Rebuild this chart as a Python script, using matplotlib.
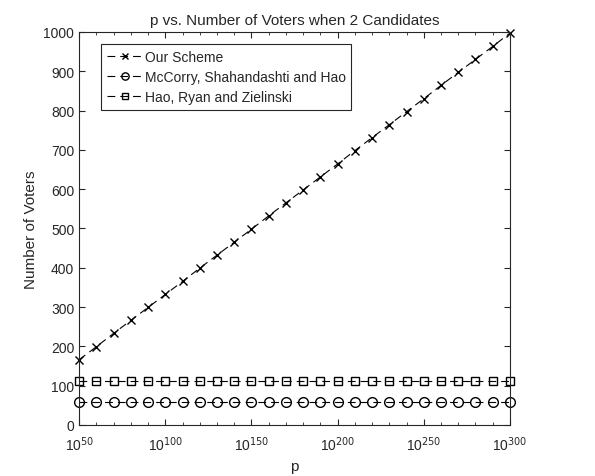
import matplotlib
matplotlib.use('Agg')
import matplotlib.pyplot as plt
from matplotlib.ticker import FixedLocator, NullFormatter

plt.rcParams['font.family'] = ['Liberation Sans', 'DejaVu Sans']

exps = [50, 60, 70, 80, 90, 100, 110, 120, 130, 140, 150, 160, 170, 180, 190,
        200, 210, 220, 230, 240, 250, 260, 270, 280, 290, 300]
ours = [166, 199, 233, 266, 299, 332, 365, 399, 432, 465, 498, 532, 565, 598,
        631, 664, 698, 731, 764, 797, 830, 864, 897, 930, 963, 997]
mccorry = [58] * 26
hao = [113] * 26
major_exps = [50, 100, 150, 200, 250, 300]

p = [10.0 ** e for e in exps]
txt = '#262626'
dash = (7, 4.5)

fig = plt.figure(figsize=(5.95, 4.77), dpi=100)
ax = fig.add_axes([0.133, 0.107, 0.724, 0.824])

ax.plot(p, ours, '--x', color='black', lw=0.8, ms=5.5, mew=1.0, dashes=dash,
        label='Our Scheme', clip_on=False)
ax.plot(p, mccorry, '--o', color='black', lw=0.8, ms=7, mfc='none', mew=1.0, dashes=dash,
        label='McCorry, Shahandashti and Hao', clip_on=False)
ax.plot(p, hao, '--s', color='black', lw=0.8, ms=6, mfc='none', mew=1.0, dashes=dash,
        label='Hao, Ryan and Zielinski', clip_on=False)

ax.set_xscale('log')
ax.set_xlim(1e50, 1e300)
ax.set_ylim(0, 1000)
ax.xaxis.set_major_locator(FixedLocator([10.0 ** e for e in major_exps]))
ax.xaxis.set_minor_locator(FixedLocator(p))
ax.xaxis.set_minor_formatter(NullFormatter())
ax.set_xticklabels(['10$^{%d}$' % e for e in major_exps])
ax.set_yticks(range(0, 1001, 100))

ax.tick_params(which='both', direction='in', top=True, right=True, colors=txt, labelsize=10)
ax.tick_params(which='major', length=4)
ax.tick_params(which='minor', length=2)
ax.tick_params(axis='x', which='major', pad=7)
for s in ax.spines.values():
    s.set_color(txt)
    s.set_linewidth(0.8)

ax.set_title('p vs. Number of Voters when 2 Candidates', fontsize=11, color=txt)
ax.set_xlabel('p', fontsize=11, color=txt)
ax.set_ylabel('Number of Voters', fontsize=11, color=txt)

leg = ax.legend(loc='upper left', bbox_to_anchor=(0.051, 0.969), borderaxespad=0,
                fontsize=10, fancybox=False, edgecolor=txt, framealpha=1, markerscale=0.75,
                handlelength=2.6, handletextpad=0.15, borderpad=0.4, labelspacing=0.45)
leg.get_frame().set_linewidth(0.8)
for t in leg.get_texts():
    t.set_color(txt)

fig.savefig('out.png', dpi=100)
